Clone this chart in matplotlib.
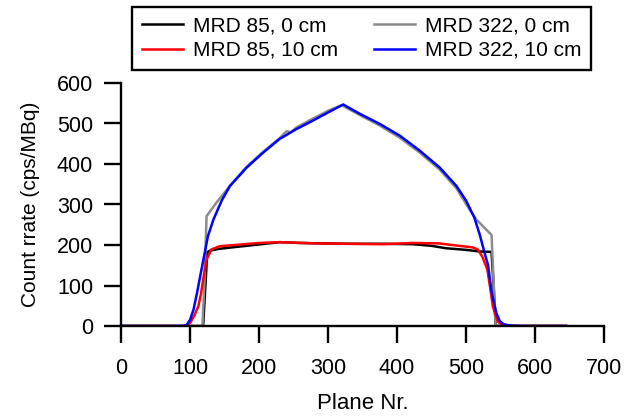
import matplotlib.pyplot as plt

plt.rcParams["font.family"] = ["Liberation Sans", "DejaVu Sans"]

# MRD 85, 0 cm
x_85_0 = [0, 50, 100, 119, 122, 125, 129, 140, 160, 182, 230, 260, 327, 380, 423, 450,
          471, 500, 520, 537, 540, 543, 560, 645]
y_85_0 = [0, 0, 0, 0, 90, 182, 186, 190, 194, 198, 207, 205, 203, 203, 202, 198,
          192, 188, 184, 183, 100, 0, 0, 0]

# MRD 322, 0 cm
x_322_0 = [0, 50, 100, 118, 121, 124, 138, 158, 182, 206, 230, 240, 246, 254, 278,
           302, 320, 346, 375, 404, 433, 462, 486, 505, 515, 534, 537, 540, 543,
           560, 645]
y_322_0 = [0, 0, 0, 0, 110, 271, 304, 346, 393, 430, 464, 481, 478, 490, 512,
           533, 545, 521, 495, 465, 428, 386, 340, 288, 263, 230, 225, 110, 0,
           0, 0]

# MRD 85, 10 cm
x_85_10 = [0, 50, 92, 100, 106, 112, 116, 119, 124, 131, 143, 158, 200, 230, 280, 327,
           380, 423, 460, 495, 510, 517, 524, 531, 535, 539, 546, 552, 560, 645]
y_85_10 = [0, 0, 0, 7, 25, 48, 80, 114, 164, 189, 197, 199, 205, 207, 204, 203,
           202, 205, 204, 197, 194, 189, 170, 139, 95, 48, 11, 3, 0, 0]

# MRD 322, 10 cm
x_322_10 = [0, 50, 88, 95, 100, 105, 110, 115, 119, 126, 134, 146, 158, 182, 206, 230,
            254, 278, 302, 322, 346, 375, 404, 433, 462, 486, 500, 512, 520, 527,
            532, 537, 541, 544, 549, 555, 565, 580, 645]
y_322_10 = [0, 0, 0, 2, 15, 40, 80, 125, 160, 222, 263, 310, 346, 391, 428, 462,
            486, 507, 529, 547, 524, 499, 470, 433, 391, 346, 310, 268, 225, 180,
            150, 85, 55, 32, 12, 4, 1, 0, 0]

fig = plt.figure(figsize=(6.26, 4.19), dpi=100)
ax = fig.add_axes([121 / 626, 1 - 326 / 419, 483 / 626, 243 / 419])

l1, = ax.plot(x_85_0, y_85_0, color="black", lw=1.8, label="MRD 85, 0 cm")
l2, = ax.plot(x_322_0, y_322_0, color="#8c8c8c", lw=1.8, label="MRD 322, 0 cm")
l3, = ax.plot(x_85_10, y_85_10, color="red", lw=1.8, label="MRD 85, 10 cm")
l4, = ax.plot(x_322_10, y_322_10, color="blue", lw=1.8, label="MRD 322, 10 cm")

ax.set_xlim(0, 700)
ax.set_ylim(0, 600)
ax.set_xticks(range(0, 701, 100))
ax.set_yticks(range(0, 601, 100))
ax.spines["top"].set_visible(False)
ax.spines["right"].set_visible(False)
for s in ("left", "bottom"):
    ax.spines[s].set_linewidth(1.7)
ax.tick_params(direction="out", length=12, width=1.7, labelsize=15.5)
ax.tick_params(axis="x", pad=11)
ax.tick_params(axis="y", pad=8)

ax.set_xlabel("Plane Nr.", fontsize=16, labelpad=10)
ax.set_ylabel("Count rrate (cps/MBq)", fontsize=15, labelpad=12)

leg = fig.legend(handles=[l1, l3, l2, l4], ncol=2, loc="upper left",
                 bbox_to_anchor=(132 / 626, 1 - 7 / 419), borderaxespad=0,
                 fontsize=15, fancybox=False, framealpha=1, edgecolor="black",
                 handlelength=1.97, handletextpad=0.48, columnspacing=1.73,
                 labelspacing=0.25, borderpad=0.47)
leg.get_frame().set_linewidth(1.7)

fig.savefig("out.png", dpi=100)
